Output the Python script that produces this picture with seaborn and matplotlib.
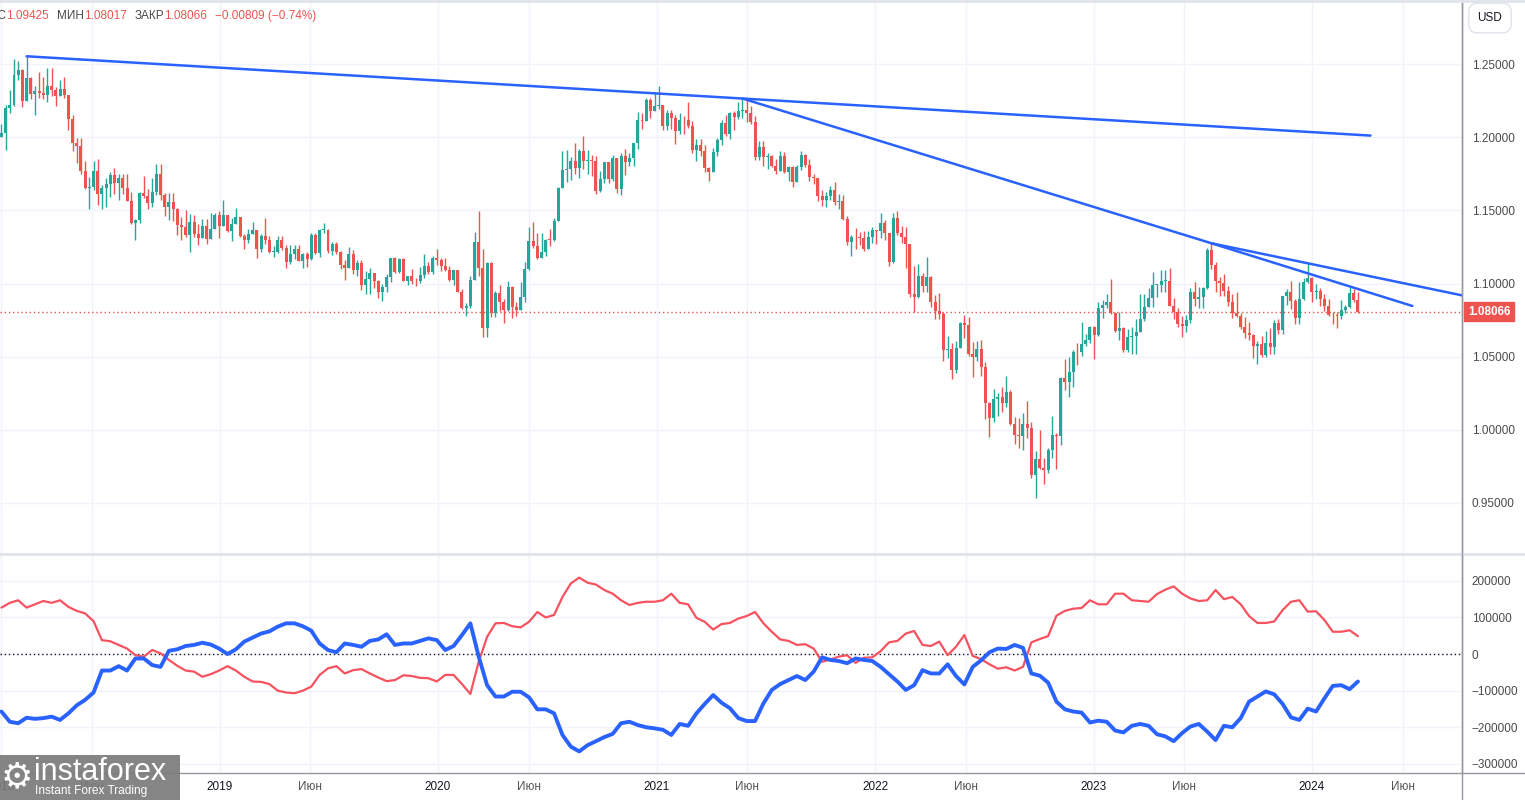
import numpy as np
import pandas as pd
import matplotlib
matplotlib.use("Agg")
import matplotlib.pyplot as plt
import matplotlib.dates as mdates
from matplotlib.lines import Line2D
from matplotlib.patches import Rectangle
from matplotlib.ticker import FuncFormatter
from matplotlib.transforms import blended_transform_factory
import seaborn as sns

# %% data: weekly EUR/USD candles (open = previous close)
first_open = 1.2005

close_2018 = [1.2029, 1.2199, 1.2222, 1.2427, 1.2459, 1.2250, 1.2406, 1.2296, 1.2317, 1.2307,
              1.2288, 1.2352, 1.2323, 1.2282, 1.2330, 1.2287, 1.2129, 1.1960, 1.1940, 1.1770,
              1.1653, 1.1658, 1.1767, 1.1610, 1.1656, 1.1684, 1.1746, 1.1686, 1.1723, 1.1655,
              1.1567, 1.1412, 1.1438, 1.1620, 1.1602, 1.1553, 1.1624, 1.1750, 1.1604, 1.1524,
              1.1561, 1.1512, 1.1402, 1.1387, 1.1335, 1.1418, 1.1336, 1.1315, 1.1395, 1.1307,
              1.1371, 1.1467]
high_2018 = [1.2089, 1.2219, 1.2323, 1.2537, 1.2521, 1.2469, 1.2555, 1.2411, 1.2355, 1.2446,
             1.2413, 1.2476, 1.2476, 1.2346, 1.2396, 1.2414, 1.2264, 1.2154, 1.1997, 1.1997,
             1.1839, 1.1726, 1.1840, 1.1852, 1.1677, 1.1719, 1.1760, 1.1791, 1.1750, 1.1750,
             1.1748, 1.1627, 1.1445, 1.1624, 1.1734, 1.1650, 1.1722, 1.1815, 1.1815, 1.1621,
             1.1621, 1.1621, 1.1518, 1.1457, 1.1500, 1.1473, 1.1472, 1.1409, 1.1442, 1.1443,
             1.1486, 1.1486]
low_2018 = [1.2004, 1.1916, 1.2166, 1.2215, 1.2390, 1.2206, 1.2336, 1.2260, 1.2155, 1.2273,
            1.2260, 1.2239, 1.2280, 1.2215, 1.2297, 1.2270, 1.2053, 1.1910, 1.1822, 1.1750,
            1.1645, 1.1510, 1.1637, 1.1541, 1.1509, 1.1527, 1.1592, 1.1612, 1.1575, 1.1616,
            1.1562, 1.1409, 1.1301, 1.1412, 1.1587, 1.1510, 1.1526, 1.1609, 1.1570, 1.1463,
            1.1432, 1.1431, 1.1335, 1.1301, 1.1316, 1.1216, 1.1322, 1.1267, 1.1310, 1.1269,
            1.1342, 1.1376]

close_2019 = [1.1394, 1.1468, 1.1363, 1.1407, 1.1456, 1.1326, 1.1295, 1.1336, 1.1366, 1.1235,
              1.1326, 1.1301, 1.1217, 1.1219, 1.1296, 1.1246, 1.1149, 1.1200, 1.1236, 1.1156,
              1.1202, 1.1166, 1.1333, 1.1210, 1.1370, 1.1370, 1.1226, 1.1270, 1.1219, 1.1127,
              1.1107, 1.1201, 1.1093, 1.1143, 1.0990, 1.1028, 1.1074, 1.1017, 1.0941, 1.0978,
              1.1042, 1.1172, 1.1080, 1.1165, 1.1019, 1.1051, 1.1021, 1.1017, 1.1059, 1.1121,
              1.1079, 1.1176]
high_2019 = [1.1498, 1.1570, 1.1454, 1.1448, 1.1514, 1.1456, 1.1342, 1.1372, 1.1420, 1.1366,
             1.1339, 1.1448, 1.1325, 1.1255, 1.1324, 1.1324, 1.1265, 1.1265, 1.1264, 1.1265,
             1.1207, 1.1215, 1.1348, 1.1347, 1.1372, 1.1412, 1.1375, 1.1286, 1.1285, 1.1224,
             1.1161, 1.1250, 1.1230, 1.1162, 1.1164, 1.1085, 1.1110, 1.1075, 1.1025, 1.0999,
             1.1063, 1.1172, 1.1179, 1.1175, 1.1175, 1.1052, 1.1097, 1.1039, 1.1116, 1.1200,
             1.1151, 1.1187]
low_2019 = [1.1309, 1.1398, 1.1353, 1.1289, 1.1410, 1.1322, 1.1234, 1.1276, 1.1354, 1.1176,
            1.1215, 1.1271, 1.1211, 1.1183, 1.1208, 1.1229, 1.1110, 1.1135, 1.1168, 1.1154,
            1.1105, 1.1116, 1.1158, 1.1201, 1.1181, 1.1346, 1.1207, 1.1193, 1.1200, 1.1101,
            1.1027, 1.1107, 1.1066, 1.1052, 1.0957, 1.0926, 1.0927, 1.0967, 1.0904, 1.0879,
            1.0940, 1.1013, 1.1073, 1.1073, 1.1019, 1.0989, 1.0999, 1.0981, 1.1003, 1.1040,
            1.1067, 1.1066]

close_2020 = [1.1161, 1.1121, 1.1091, 1.1025, 1.1094, 1.0945, 1.0832, 1.0846, 1.1026, 1.1283,
              1.1107, 1.0693, 1.1142, 1.0801, 1.0935, 1.0877, 1.0820, 1.0980, 1.0837, 1.0820,
              1.0905, 1.1101, 1.1290, 1.1256, 1.1177, 1.1218, 1.1301, 1.1299, 1.1429, 1.1655,
              1.1778, 1.1785, 1.1841, 1.1793, 1.1906, 1.1838, 1.1844, 1.1838, 1.1633, 1.1716,
              1.1829, 1.1718, 1.1859, 1.1647, 1.1875, 1.1833, 1.1857, 1.1962, 1.2120, 1.2113,
              1.2255, 1.2182, 1.2216]
high_2020 = [1.1239, 1.1174, 1.1173, 1.1120, 1.1096, 1.1096, 1.0963, 1.0865, 1.1053, 1.1355,
             1.1496, 1.1237, 1.1147, 1.1147, 1.0952, 1.0990, 1.0892, 1.1019, 1.0985, 1.0875,
             1.1008, 1.1146, 1.1384, 1.1422, 1.1349, 1.1349, 1.1302, 1.1375, 1.1452, 1.1660,
             1.1908, 1.1916, 1.1866, 1.1965, 1.1921, 1.2011, 1.1917, 1.1882, 1.1873, 1.1773,
             1.1831, 1.1830, 1.1881, 1.1861, 1.1891, 1.1920, 1.1894, 1.1964, 1.2177, 1.2166,
             1.2273, 1.2273, 1.2310]
low_2020 = [1.1125, 1.1085, 1.1086, 1.1020, 1.0992, 1.0940, 1.0827, 1.0778, 1.0835, 1.1054,
            1.1055, 1.0636, 1.0638, 1.0769, 1.0770, 1.0812, 1.0727, 1.0812, 1.0766, 1.0775,
            1.0869, 1.0871, 1.1096, 1.1246, 1.1168, 1.1181, 1.1190, 1.1254, 1.1293, 1.1429,
            1.1653, 1.1696, 1.1711, 1.1753, 1.1721, 1.1781, 1.1753, 1.1737, 1.1612, 1.1628,
            1.1686, 1.1689, 1.1703, 1.1622, 1.1603, 1.1746, 1.1801, 1.1801, 1.1924, 1.2059,
            1.2110, 1.2130, 1.2184]

close_2021 = [1.2221, 1.2080, 1.2170, 1.2136, 1.2045, 1.2119, 1.2118, 1.2075, 1.1914, 1.1951,
              1.1904, 1.1794, 1.1764, 1.1900, 1.1983, 1.2097, 1.2020, 1.2165, 1.2142, 1.2180,
              1.2190, 1.2165, 1.2107, 1.1864, 1.1937, 1.1863, 1.1876, 1.1807, 1.1770, 1.1870,
              1.1761, 1.1796, 1.1697, 1.1795, 1.1880, 1.1814, 1.1726, 1.1719, 1.1596, 1.1572,
              1.1600, 1.1643, 1.1558, 1.1568, 1.1445, 1.1286, 1.1318, 1.1316, 1.1315, 1.1239,
              1.1322, 1.1370]
high_2021 = [1.2349, 1.2223, 1.2190, 1.2189, 1.2150, 1.2169, 1.2145, 1.2243, 1.2113, 1.1989,
             1.1990, 1.1945, 1.1797, 1.1926, 1.1995, 1.2117, 1.2150, 1.2173, 1.2183, 1.2245,
             1.2266, 1.2254, 1.2218, 1.2145, 1.1975, 1.1975, 1.1895, 1.1880, 1.1850, 1.1909,
             1.1900, 1.1805, 1.1805, 1.1809, 1.1909, 1.1885, 1.1849, 1.1751, 1.1721, 1.1640,
             1.1624, 1.1668, 1.1692, 1.1616, 1.1608, 1.1464, 1.1330, 1.1383, 1.1355, 1.1361,
             1.1360, 1.1386]
low_2021 = [1.2193, 1.2054, 1.2054, 1.2057, 1.1952, 1.2023, 1.2023, 1.2066, 1.1893, 1.1836,
            1.1874, 1.1762, 1.1704, 1.1760, 1.1870, 1.1950, 1.2011, 1.1986, 1.2051, 1.2125,
            1.2133, 1.2103, 1.2093, 1.1847, 1.1848, 1.1807, 1.1782, 1.1795, 1.1752, 1.1770,
            1.1754, 1.1705, 1.1664, 1.1695, 1.1780, 1.1800, 1.1701, 1.1681, 1.1563, 1.1529,
            1.1524, 1.1571, 1.1535, 1.1513, 1.1432, 1.1263, 1.1186, 1.1236, 1.1261, 1.1222,
            1.1267, 1.1279]

close_2022 = [1.1359, 1.1412, 1.1344, 1.1146, 1.1452, 1.1349, 1.1321, 1.1270, 1.0930, 1.0911,
              1.1049, 1.0983, 1.1048, 1.0876, 1.0811, 1.0795, 1.0545, 1.0550, 1.0412, 1.0560,
              1.0732, 1.0720, 1.0519, 1.0496, 1.0555, 1.0426, 1.0186, 1.0082, 1.0212, 1.0224,
              1.0182, 1.0259, 1.0039, 0.9966, 0.9954, 1.0040, 1.0015, 0.9690, 0.9802, 0.9740,
              0.9723, 0.9860, 0.9965, 0.9958, 1.0355, 1.0325, 1.0398, 1.0535, 1.0530, 1.0585,
              1.0615, 1.0705]
high_2022 = [1.1369, 1.1482, 1.1437, 1.1339, 1.1483, 1.1495, 1.1395, 1.1390, 1.1234, 1.1121,
             1.1137, 1.1070, 1.1185, 1.1054, 1.0923, 1.0936, 1.0806, 1.0642, 1.0594, 1.0607,
             1.0737, 1.0787, 1.0774, 1.0601, 1.0606, 1.0615, 1.0463, 1.0187, 1.0278, 1.0254,
             1.0294, 1.0368, 1.0275, 1.0090, 1.0079, 1.0114, 1.0198, 1.0050, 0.9853, 0.9999,
             0.9809, 0.9873, 1.0094, 0.9977, 1.0364, 1.0481, 1.0497, 1.0545, 1.0595, 1.0736,
             1.0658, 1.0713]
low_2022 = [1.1273, 1.1315, 1.1300, 1.1121, 1.1140, 1.1331, 1.1280, 1.1106, 1.0910, 1.0806,
            1.0900, 1.0945, 1.0945, 1.0837, 1.0757, 1.0760, 1.0471, 1.0492, 1.0350, 1.0389,
            1.0560, 1.0627, 1.0507, 1.0359, 1.0469, 1.0366, 1.0072, 0.9952, 1.0050, 1.0097,
            1.0123, 1.0159, 1.0034, 0.9900, 0.9877, 0.9864, 0.9944, 0.9668, 0.9535, 0.9731,
            0.9632, 0.9705, 0.9807, 0.9730, 0.9897, 1.0272, 1.0223, 1.0290, 1.0443, 1.0502,
            1.0573, 1.0592]

close_2023 = [1.0645, 1.0831, 1.0856, 1.0871, 1.0796, 1.0678, 1.0695, 1.0548, 1.0634, 1.0642,
              1.0670, 1.0760, 1.0843, 1.0903, 1.0992, 1.0992, 1.1018, 1.1019, 1.0850, 1.0804,
              1.0722, 1.0708, 1.0750, 1.0940, 1.0893, 1.0910, 1.0970, 1.1228, 1.1125, 1.1016,
              1.1004, 1.0948, 1.0872, 1.0796, 1.0775, 1.0700, 1.0660, 1.0650, 1.0573, 1.0589,
              1.0510, 1.0593, 1.0565, 1.0727, 1.0683, 1.0914, 1.0942, 1.0883, 1.0762, 1.0895,
              1.1013, 1.1039]
high_2023 = [1.0713, 1.0875, 1.0887, 1.0929, 1.1033, 1.0804, 1.0805, 1.0705, 1.0691, 1.0701,
             1.0760, 1.0930, 1.0926, 1.0973, 1.1076, 1.1000, 1.1095, 1.1091, 1.1107, 1.0904,
             1.0830, 1.0779, 1.0787, 1.0971, 1.1012, 1.0976, 1.0975, 1.1245, 1.1276, 1.1149,
             1.1046, 1.1065, 1.0986, 1.0931, 1.0945, 1.0799, 1.0769, 1.0737, 1.0657, 1.0608,
             1.0641, 1.0675, 1.0695, 1.0748, 1.0755, 1.0914, 1.0965, 1.1017, 1.0893, 1.1009,
             1.1039, 1.1139]
low_2023 = [1.0483, 1.0641, 1.0767, 1.0835, 1.0794, 1.0669, 1.0613, 1.0533, 1.0532, 1.0516,
            1.0516, 1.0713, 1.0745, 1.0878, 1.0838, 1.0910, 1.0942, 1.0942, 1.0850, 1.0760,
            1.0702, 1.0635, 1.0666, 1.0732, 1.0844, 1.0835, 1.0833, 1.0964, 1.1102, 1.0943,
            1.0912, 1.0915, 1.0845, 1.0766, 1.0770, 1.0686, 1.0631, 1.0617, 1.0488, 1.0448,
            1.0496, 1.0495, 1.0521, 1.0517, 1.0655, 1.0656, 1.0852, 1.0828, 1.0723, 1.0723,
            1.0888, 1.1002]

close_2024 = [1.0941, 1.0950, 1.0897, 1.0848, 1.0788, 1.0784, 1.0777, 1.0821, 1.0838, 1.0937,
              1.08875, 1.08066]
high_2024 = [1.1046, 1.0999, 1.0968, 1.0932, 1.0897, 1.0806, 1.0805, 1.0888, 1.0856, 1.0981,
             1.0964, 1.09425]
low_2024 = [1.0877, 1.0896, 1.0845, 1.0813, 1.0780, 1.0722, 1.0695, 1.0761, 1.0796, 1.0834,
            1.0873, 1.08017]

# net positions (thousands of contracts), one reading every two weeks
net_red = [127, 140, 147, 127, 136, 145, 140, 147, 129, 118, 111, 90, 38, 35, 25, 15, -3, -7, 11, 2,
           -16, -32, -45, -48, -62, -55, -45, -33, -45, -62, -75, -76, -82, -100, -105, -107, -100, -89, -57, -39,
           -33, -53, -44, -41, -53, -64, -74, -71, -58, -60, -65, -66, -75, -57, -57, -82, -109, -21, 47, 84,
           85, 76, 73, 88, 115, 100, 107, 156, 193, 209, 195, 190, 175, 165, 147, 134, 140, 143, 143, 147,
           165, 140, 136, 99, 88, 67, 82, 85, 97, 104, 115, 84, 61, 40, 36, 25, 27, 15, -21, -15,
           -7, -3, -24, -10, -9, 8, 32, 36, 56, 63, 25, 22, 34, -3, 20,
           52, -5, -14, -28, -40, -36, -45, -35, 32, 41, 49, 105, 118, 124, 126, 147, 136, 136, 165, 165,
           147, 145, 143, 164, 176, 185, 165, 152, 145, 147, 175, 150, 156, 136, 104, 85, 85, 89, 120, 143,
           147, 116, 117, 93, 61, 61, 65, 49]
net_blue = [-157, -185, -189, -174, -177, -175, -171, -180, -162, -140, -125, -105, -45, -45, -33, -45, -12, -12, -30, -35,
            9, 13, 22, 25, 31, 26, 15, 0, 13, 34, 45, 56, 62, 75, 84, 84, 76, 64, 29, 11,
            5, 29, 25, 20, 36, 40, 54, 25, 29, 29, 36, 43, 38, 11, 22, 52, 84, -7, -85, -116,
            -116, -103, -103, -118, -151, -151, -162, -221, -253, -266, -249, -238, -227, -218, -189, -185, -194, -200, -203, -207,
            -221, -191, -196, -162, -136, -112, -133, -148, -175, -183, -183, -135, -98, -82, -71, -60, -71, -48, -9, -16,
            -19, -25, -12, -16, -19, -35, -55, -75, -98, -85, -44, -53, -53, -28, -60,
            -83, -35, -17, 5, 15, 14, 25, 17, -53, -59, -78, -130, -151, -157, -160, -187, -182, -185, -209, -214,
            -196, -191, -196, -219, -225, -238, -216, -198, -191, -212, -235, -196, -200, -175, -130, -116, -102, -110, -136, -173,
            -180, -149, -157, -121, -87, -85, -96, -75]

# trend lines drawn through candle highs: (first high, second high, last week reached)
trend_lines = [(6, 177, 327), (177, 289, 289), (289, 312, 360), (289, 322, 337)]

price_ticks = [0.95, 1.00, 1.05, 1.10, 1.15, 1.20, 1.25]
net_ticks = [-300000, -200000, -100000, 0, 100000, 200000]
tick_dates = ["2018-01-01", "2018-06-01", "2019-01-01", "2019-06-01", "2020-01-01", "2020-06-01",
              "2021-01-01", "2021-06-01", "2022-01-01", "2022-06-01", "2023-01-01", "2023-06-01",
              "2024-01-01", "2024-06-01"]
tick_labels = ["2018", "Июн", "2019", "Июн", "2020", "Июн", "2021", "Июн", "2022", "Июн",
               "2023", "Июн", "2024", "Июн"]

# %% build arrays
close = np.array(close_2018 + close_2019 + close_2020 + close_2021 + close_2022 + close_2023 + close_2024)
high = np.array(high_2018 + high_2019 + high_2020 + high_2021 + high_2022 + high_2023 + high_2024)
low = np.array(low_2018 + low_2019 + low_2020 + low_2021 + low_2022 + low_2023 + low_2024)
opn = np.concatenate([[first_open], close[:-1]])
high = np.maximum(high, np.maximum(opn, close))
low = np.minimum(low, np.minimum(opn, close))

start = pd.Timestamp("2018-01-01")
weeks = pd.date_range(start, periods=len(close), freq="7D")
xw = mdates.date2num(weeks)
cot = pd.DataFrame({
    "date": mdates.date2num(pd.date_range(start, periods=len(net_red), freq="14D")),
    "red": np.array(net_red) * 1000,
    "blue": np.array(net_blue) * 1000,
})

GREEN = "#26a69a"
RED = "#ef5350"
BLUE = "#2962ff"
GRID = "#f0f3fa"
TXT = "#131722"

# %% figure
sns.set_theme(style="white")
plt.rcParams["font.family"] = ["Liberation Sans", "DejaVu Sans"]
plt.rcParams["axes.unicode_minus"] = True

W, H = 1525, 800
fig = plt.figure(figsize=(W / 100, H / 100), dpi=100)
fig.patch.set_facecolor("white")
axw = 1462 / W
ax = fig.add_axes([0, 1 - 553 / H, axw, 553 / H])
ax2 = fig.add_axes([0, 1 - 773 / H, axw, 217 / H], sharex=ax)

x0 = mdates.date2num(start)
ax.set_xlim(x0 - 2.4, x0 + 2442)

# candles
up = close >= opn
cols = np.where(up, GREEN, RED)
ax.vlines(xw, low, high, colors=cols, lw=1, zorder=3)
ax.bar(xw, np.maximum(np.abs(close - opn), 0.0004), bottom=np.minimum(opn, close),
       width=5, color=cols, linewidth=0, zorder=4)

# trend lines
for a, b, end in trend_lines:
    slope = (high[b] - high[a]) / (b - a)
    ax.plot([xw[a], x0 + end * 7], [high[a], high[a] + slope * (end - a)],
            color=BLUE, lw=1.8, solid_capstyle="round", zorder=5)

# last price line + label
ax.axhline(close[-1], color=RED, lw=1, ls=(0, (1, 2)), zorder=2)
tr = blended_transform_factory(ax.transAxes, ax.transData)
ax.text(1.004, close[-1], f"{close[-1]:.5f}", transform=tr, ha="left", va="center",
        color="white", fontsize=8.5, fontweight="bold", clip_on=False,
        bbox=dict(boxstyle="square,pad=0.3", fc=RED, ec=RED))

ax.set_ylim(0.9157, 1.2940)
ax.set_yticks(price_ticks)
ax.yaxis.set_major_formatter(FuncFormatter(lambda v, p: f"{v:.5f}"))
ax.yaxis.tick_right()
ax.tick_params(axis="y", length=0, pad=7, labelsize=8.5, labelcolor="#4a4a4a")
ax.tick_params(axis="x", length=0, labelbottom=False)

# lower panel
sns.lineplot(data=cot, x="date", y="red", ax=ax2, color="#f7525f", lw=1.6,
             estimator=None, sort=False, zorder=3)
sns.lineplot(data=cot, x="date", y="blue", ax=ax2, color=BLUE, lw=2.8,
             estimator=None, sort=False, zorder=4)
ax2.axhline(0, color=TXT, lw=1, ls=(0, (1, 2)), zorder=2)
ax2.set_ylim(-325000, 268000)
ax2.set_yticks(net_ticks)
ax2.yaxis.set_major_formatter(FuncFormatter(lambda v, p: f"{int(v)}".replace("-", "\u2212")))
ax2.yaxis.tick_right()
ax2.tick_params(axis="y", length=0, pad=7, labelsize=8.5, labelcolor="#4a4a4a")
ax2.set_xlabel("")
ax2.set_ylabel("")

ax2.set_xticks(mdates.date2num(pd.to_datetime(tick_dates)))
ax2.set_xticklabels(tick_labels)
ax2.tick_params(axis="x", length=0, pad=6, labelsize=8.5)
for lab in ax2.get_xticklabels():
    lab.set_color(TXT if lab.get_text() != "Июн" else "#555555")

for a in (ax, ax2):
    a.grid(True, color=GRID, lw=1)
    a.set_axisbelow(True)
    for s in ("top", "left", "bottom"):
        a.spines[s].set_visible(False)
    a.spines["right"].set_color("#9598a1")
    a.spines["right"].set_linewidth(1)

# frame lines around the panels
fig.add_artist(Line2D([0, 1], [1 - 554 / H] * 2, color="#e0e3eb", lw=2))
fig.add_artist(Line2D([0, 1], [1 - 773 / H] * 2, color="#9598a1", lw=1))
fig.add_artist(Line2D([axw, axw], [0, 1], color="#9598a1", lw=1))
fig.add_artist(Line2D([0, 1], [1 - 1 / H] * 2, color="#e0e3eb", lw=2))

# currency badge
fig.text(1490 / W, 1 - 18 / H, "USD", ha="center", va="center", fontsize=8.5, color=TXT,
         bbox=dict(boxstyle="round,pad=0.75", fc="white", ec="#e0e3eb"))

# header with the last candle (left part cut by the frame)
GREY = "#4a4a4a"
parts = [("МАКС", GREY, 0), ("1.09425", RED, 0), ("МИН", GREY, 8), ("1.08017", RED, 0),
         ("ЗАКР", GREY, 8), ("1.08066", RED, 0), ("\u22120.00809 (\u22120.74%)", RED, 8)]
renderer = fig.canvas.get_renderer()
xpos = None
for txt, col, gap in parts:
    if xpos is None:
        t = fig.text(6 / W, 1 - 16 / H, txt, ha="right", va="center", fontsize=8.5, color=col)
    else:
        t = fig.text((xpos + gap) / W, 1 - 16 / H, txt, ha="left", va="center", fontsize=8.5, color=col)
    xpos = t.get_window_extent(renderer).x1

# logo
fig.add_artist(Rectangle((0, 0), 180 / W, 45 / H, transform=fig.transFigure,
                         fc="#7b7b7b", ec="none", alpha=0.92, zorder=5))
fig.text(17 / W, 1 - 777 / H, "\u2699", ha="center", va="center", fontsize=26,
         color="white", family="DejaVu Sans", zorder=6)
fig.text(34 / W, 1 - 772 / H, "instaforex", ha="left", va="center", fontsize=22,
         color="white", zorder=6)
fig.text(35 / W, 1 - 791 / H, "Instant Forex Trading", ha="left", va="center",
         fontsize=8.6, color="white", zorder=6)

fig.savefig("out.png", dpi=100)
